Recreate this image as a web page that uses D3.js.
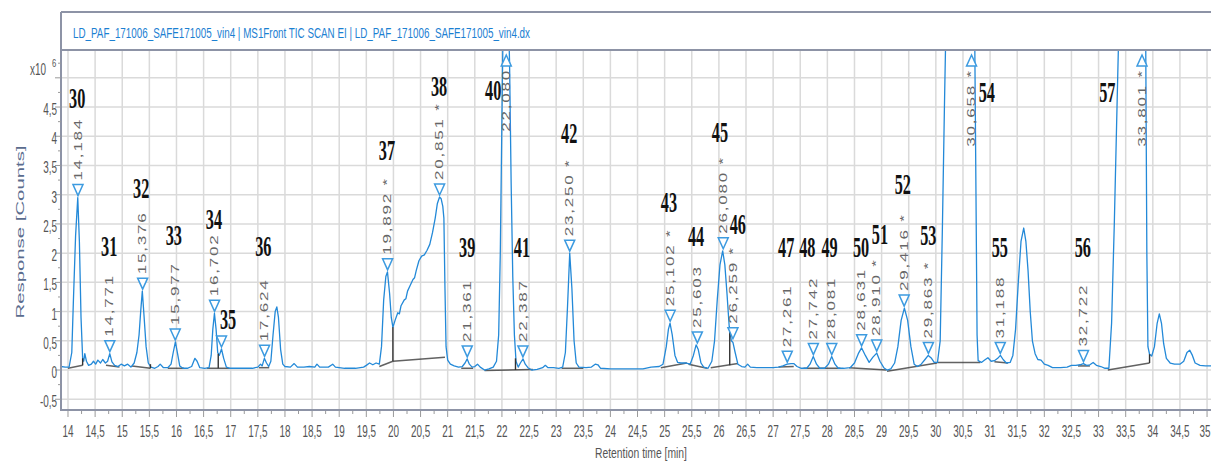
<!DOCTYPE html>
<html><head><meta charset="utf-8">
<script src="https://cdn.jsdelivr.net/npm/d3@7"></script>
<style>body{margin:0;background:#fff;} svg{display:block;}</style>
</head><body><svg id="c" width="1211" height="463"></svg>
<script>
// ---------------- DATA ----------------
const titleText = "LD_PAF_171006_SAFE171005_vin4 | MS1Front TIC SCAN EI | LD_PAF_171006_SAFE171005_vin4.dx";
const xTitle = "Retention time [min]";
const yTitle = "Response [Counts]";
const xTickValues = [14,14.5,15,15.5,16,16.5,17,17.5,18,18.5,19,19.5,20,20.5,21,21.5,22,22.5,23,23.5,24,24.5,25,25.5,26,26.5,27,27.5,28,28.5,29,29.5,30,30.5,31,31.5,32,32.5,33,33.5,34,34.5,35];
const yTickValues = [-0.5,0,0.5,1,1.5,2,2.5,3,3.5,4,4.5];
const yGridValues = [-0.5,0,0.5,1,1.5,2,2.5,3,3.5,4,4.5,5];

// TIC trace [retention time (min), response (x10^6 counts)]
const trace = [
[13.87,0.06],[13.95,0.05],[14.02,0.05],[14.07,0.3],[14.1,1.2],[14.14,2.3],[14.18,2.95],[14.21,2.2],[14.24,0.9],[14.27,0.2],[14.29,0.15],[14.31,0.28],[14.34,0.15],[14.38,0.08],[14.43,0.1],[14.47,0.15],[14.51,0.1],[14.55,0.17],[14.6,0.12],[14.64,0.18],[14.69,0.12],[14.73,0.15],[14.77,0.28],[14.81,0.14],[14.86,0.08],[14.92,0.06],[14.98,0.1],[15.04,0.07],[15.1,0.1],[15.16,0.05],[15.22,0.12],[15.27,0.3],[15.31,0.6],[15.34,1.0],[15.37,1.35],[15.4,0.95],[15.44,0.4],[15.48,0.12],[15.53,0.05],[15.6,0.03],[15.66,0.06],[15.7,0.1],[15.76,0.04],[15.84,0.04],[15.9,0.1],[15.94,0.3],[15.98,0.48],[16.02,0.28],[16.06,0.07],[16.12,0.03],[16.2,0.03],[16.28,0.06],[16.34,0.2],[16.38,0.15],[16.43,0.04],[16.52,0.03],[16.6,0.04],[16.64,0.25],[16.67,0.7],[16.7,0.97],[16.73,0.7],[16.76,0.3],[16.79,0.25],[16.83,0.36],[16.87,0.2],[16.92,0.05],[16.98,0.03],[17.1,0.03],[17.25,0.03],[17.4,0.03],[17.5,0.05],[17.55,0.1],[17.58,0.07],[17.62,0.2],[17.66,0.12],[17.7,0.06],[17.74,0.15],[17.78,0.6],[17.82,1.0],[17.85,1.08],[17.88,0.9],[17.92,0.35],[17.96,0.1],[18.0,0.06],[18.1,0.05],[18.17,0.11],[18.23,0.05],[18.35,0.05],[18.45,0.06],[18.55,0.05],[18.59,0.1],[18.64,0.05],[18.8,0.05],[18.88,0.1],[18.93,0.05],[19.1,0.03],[19.3,0.03],[19.45,0.05],[19.5,0.08],[19.56,0.12],[19.62,0.09],[19.68,0.12],[19.74,0.1],[19.78,0.4],[19.82,1.2],[19.86,1.6],[19.89,1.68],[19.93,1.3],[19.96,0.9],[19.99,0.73],[20.03,0.85],[20.08,0.98],[20.11,0.96],[20.14,1.1],[20.2,1.2],[20.23,1.22],[20.26,1.35],[20.31,1.45],[20.36,1.55],[20.39,1.58],[20.42,1.7],[20.47,1.87],[20.52,1.95],[20.57,1.97],[20.62,2.05],[20.67,2.15],[20.72,2.35],[20.77,2.6],[20.81,2.85],[20.85,2.96],[20.88,2.93],[20.91,2.8],[20.93,2.6],[20.95,1.4],[20.97,0.4],[21.0,0.17],[21.05,0.1],[21.12,0.07],[21.2,0.05],[21.27,0.06],[21.32,0.12],[21.36,0.19],[21.4,0.1],[21.45,0.05],[21.5,0.06],[21.55,0.1],[21.6,0.05],[21.68,0.0],[21.76,0.02],[21.84,0.05],[21.9,0.15],[21.94,0.6],[21.97,2.0],[22.0,4.3],[22.03,6.5],[22.1,6.8],[22.14,5.3],[22.17,3.2],[22.2,1.6],[22.23,0.6],[22.26,0.15],[22.3,0.05],[22.34,0.12],[22.39,0.19],[22.43,0.1],[22.48,0.04],[22.55,0.0],[22.65,0.01],[22.75,0.04],[22.8,0.08],[22.85,0.04],[22.95,0.04],[23.05,0.03],[23.12,0.05],[23.17,0.3],[23.21,1.1],[23.25,2.0],[23.29,1.4],[23.33,0.5],[23.37,0.12],[23.42,0.05],[23.55,0.04],[23.65,0.05],[23.72,0.1],[23.77,0.09],[23.82,0.03],[24.0,0.02],[24.3,0.02],[24.6,0.02],[24.75,0.05],[24.9,0.06],[24.97,0.1],[25.03,0.4],[25.07,0.7],[25.1,0.8],[25.14,0.6],[25.19,0.25],[25.24,0.13],[25.3,0.12],[25.4,0.12],[25.47,0.1],[25.53,0.25],[25.58,0.43],[25.62,0.35],[25.67,0.12],[25.72,0.05],[25.8,0.03],[25.87,0.15],[25.92,0.5],[25.97,1.2],[26.02,1.8],[26.07,2.04],[26.11,1.8],[26.15,1.3],[26.19,0.75],[26.23,0.5],[26.26,0.47],[26.3,0.3],[26.35,0.1],[26.42,0.06],[26.48,0.05],[26.53,0.1],[26.58,0.05],[26.7,0.04],[26.85,0.04],[27.0,0.04],[27.1,0.05],[27.18,0.07],[27.26,0.1],[27.33,0.11],[27.38,0.11],[27.44,0.06],[27.52,0.03],[27.62,0.03],[27.68,0.1],[27.74,0.23],[27.8,0.1],[27.86,0.03],[27.95,0.03],[28.02,0.1],[28.08,0.23],[28.14,0.1],[28.2,0.03],[28.3,0.03],[28.42,0.04],[28.5,0.12],[28.57,0.28],[28.63,0.38],[28.7,0.25],[28.77,0.13],[28.84,0.22],[28.91,0.29],[28.97,0.15],[29.04,0.04],[29.1,0.0],[29.17,0.02],[29.24,0.12],[29.3,0.4],[29.36,0.85],[29.42,1.06],[29.48,0.85],[29.54,0.4],[29.6,0.1],[29.66,0.06],[29.73,0.1],[29.8,0.18],[29.86,0.25],[29.92,0.2],[29.97,0.13],[30.03,0.13],[30.08,0.5],[30.12,2.4],[30.16,4.6],[30.2,6.6],[30.4,8],[30.65,8],[30.71,6.5],[30.74,3.0],[30.76,0.6],[30.78,0.16],[30.84,0.13],[30.9,0.17],[30.96,0.21],[31.02,0.15],[31.08,0.16],[31.14,0.2],[31.19,0.25],[31.24,0.18],[31.3,0.12],[31.37,0.13],[31.42,0.25],[31.47,0.7],[31.52,1.5],[31.57,2.2],[31.62,2.43],[31.66,2.2],[31.7,1.7],[31.74,1.0],[31.78,0.5],[31.83,0.28],[31.88,0.18],[31.94,0.17],[32.0,0.1],[32.07,0.08],[32.15,0.04],[32.3,0.04],[32.42,0.05],[32.5,0.08],[32.58,0.08],[32.66,0.09],[32.72,0.11],[32.78,0.08],[32.84,0.09],[32.9,0.13],[32.96,0.08],[33.04,0.06],[33.12,0.03],[33.19,0.03],[33.24,0.8],[33.29,2.5],[33.34,4.5],[33.39,6.5],[33.6,8],[33.84,8],[33.87,5.5],[33.89,2.0],[33.91,0.4],[33.94,0.27],[33.98,0.24],[34.03,0.4],[34.08,0.8],[34.12,0.96],[34.16,0.8],[34.2,0.45],[34.25,0.2],[34.32,0.12],[34.4,0.1],[34.5,0.1],[34.57,0.15],[34.63,0.3],[34.68,0.34],[34.73,0.25],[34.78,0.12],[34.87,0.08],[34.97,0.07],[35.2,0.07]
];

// integration baselines [t1, v1, t2, v2]
const baseSegs = [
[14.0,0.03,14.27,0.08],[14.7,0.08,14.95,0.05],[15.18,0.07,15.52,0.03],[15.84,0.03,16.14,0.03],
[16.56,0.03,16.98,0.03],[17.52,0.04,17.71,0.04],[19.74,0.06,19.99,0.15],[19.99,0.15,20.95,0.22],
[21.25,0.03,21.47,0.03],[21.68,-0.01,22.57,0.01],[23.1,0.03,23.5,0.03],[24.93,0.04,25.41,0.12],
[25.44,0.1,25.78,0.03],[25.85,0.04,26.35,0.11],[27.1,0.05,27.38,0.06],[27.56,0.03,28.24,0.03],
[28.4,0.04,29.09,0.0],[29.1,-0.02,30.02,0.12],[30.02,0.13,30.82,0.13],[31.08,0.14,31.33,0.12],
[32.62,0.07,32.84,0.07],[33.17,0.0,33.94,0.12]
];
// peak split drop lines [t, vBottom, vTop]
const dropLines = [[14.27,0.08,0.2],[15.52,0.03,0.1],[16.77,0.03,0.28],[19.99,0.15,0.73],[22.25,0.0,0.2],[26.2,0.08,0.65],[33.94,0.12,0.27]];

// peak markers (retention time) and their labels
const rtValues = [14.184,14.771,15.376,15.977,16.702,16.83,17.624,19.892,20.851,21.361,22.080,22.387,23.250,25.102,25.603,26.080,26.259,27.261,27.742,28.081,28.631,28.910,29.416,29.863,30.658,31.188,32.722,33.801];
const rtLabels = ["14,184","14,771","15,376","15,977","16,702","","17,624","19,892 *","20,851 *","21,361","22,080","22,387","23,250 *","25,102 *","25,603","26,080 *","26,259 *","27,261","27,742","28,081","28,631","28,910 *","29,416 *","29,863 *","30,658 *","31,188","32,722","33,801 *"];

// compound numbers and their anchor (time, response)
const peakIds = [30,31,32,33,34,35,36,37,38,39,40,41,42,43,44,45,46,47,48,49,50,51,52,53,54,55,56,57];
const peakIdT = [14.17,14.76,15.35,15.95,16.69,16.95,17.6,19.88,20.84,21.36,21.84,22.37,23.24,25.08,25.58,26.02,26.35,27.24,27.63,28.04,28.62,28.97,29.39,29.86,30.94,31.18,32.71,33.16];
const peakIdV = [4.65,2.12,3.11,2.31,2.58,0.87,2.12,3.76,4.85,2.10,4.79,2.10,4.05,2.87,2.29,4.07,2.50,2.10,2.10,2.10,2.10,2.32,3.18,2.31,4.75,2.10,2.10,4.75];

// ---------------- DRAW ----------------
const svg = d3.select('#c');
const L = 61, R = 1216, T = 50, B = 410;
const x = d3.scaleLinear().domain([13.871, 35.165]).range([L, R]);
const y = d3.scaleLinear().domain([-0.684, 5.476]).range([B, T]);
const fmt = v => String(+v.toFixed(2)).replace('.', ',');
const SANS = "'Liberation Sans', Arial, sans-serif";
const SERIF = "'Liberation Serif', 'Times New Roman', serif";

svg.append('rect').attr('width', 1211).attr('height', 463).attr('fill', '#fff');
svg.append('defs').append('clipPath').attr('id', 'clip')
  .append('rect').attr('x', L).attr('y', T).attr('width', R - L).attr('height', B - T);

// grid
const grid = svg.append('g').attr('stroke', '#dadada').attr('stroke-width', 1.5);
grid.selectAll('.vx').data(xTickValues).join('line')
  .attr('x1', d => x(d)).attr('x2', d => x(d)).attr('y1', T).attr('y2', B);
grid.selectAll('.hy').data(yGridValues).join('line')
  .attr('y1', d => y(d)).attr('y2', d => y(d)).attr('x1', L).attr('x2', R);

const plot = svg.append('g').attr('clip-path', 'url(#clip)');

// baselines
plot.append('g').attr('stroke', '#3b3b3b').attr('stroke-width', 1.5).attr('opacity', 0.8)
  .selectAll('line').data(baseSegs).join('line')
  .attr('x1', d => x(d[0])).attr('y1', d => y(d[1])).attr('x2', d => x(d[2])).attr('y2', d => y(d[3]));

// trace
plot.append('path').datum(trace)
  .attr('fill', 'none').attr('stroke', '#2389d8').attr('stroke-width', 1.3).attr('stroke-linejoin', 'round')
  .attr('d', d3.line().x(d => x(d[0])).y(d => y(d[1])));

// drop lines
plot.append('g').attr('stroke', '#333').attr('stroke-width', 1.4)
  .selectAll('line').data(dropLines).join('line')
  .attr('x1', d => x(d[0])).attr('x2', d => x(d[0])).attr('y1', d => y(d[1])).attr('y2', d => y(d[2]));

// markers & rt labels
const yMax = y.domain()[1];
function apexOf(rt) {
  let m = -1;
  trace.forEach(p => { if (Math.abs(p[0] - rt) <= 0.05 && p[1] > m) m = p[1]; });
  return m;
}
const LBL = { size: 17, spacing: 1.8, sy: 0.6, color: '#666' };
const mk = svg.append('g');
rtValues.forEach((rt, i) => {
  const cx = x(rt);
  const a = apexOf(rt);
  if (a > yMax) {
    mk.append('path').attr('d', `M${cx - 5},${T + 16} L${cx + 5},${T + 16} L${cx},${T + 5} Z`)
      .attr('fill', '#fff').attr('stroke', '#3d9be0').attr('stroke-width', 1.5);
    if (rtLabels[i]) mk.append('text').text(rtLabels[i])
      .attr('transform', `translate(${cx},${T + 19}) rotate(-90) scale(1,${LBL.sy})`)
      .attr('text-anchor', 'end').attr('dominant-baseline', 'central')
      .attr('font-family', SANS).attr('font-size', LBL.size).attr('letter-spacing', LBL.spacing).attr('fill', LBL.color);
  } else {
    const tip = y(a) - 2, top = tip - 11;
    mk.append('path').attr('d', `M${cx - 5},${top} L${cx + 5},${top} L${cx},${tip} Z`)
      .attr('fill', '#fff').attr('fill-opacity', 0.85).attr('stroke', '#3d9be0').attr('stroke-width', 1.5);
    if (rtLabels[i]) mk.append('text').text(rtLabels[i])
      .attr('transform', `translate(${cx},${top - 4}) rotate(-90) scale(1,${LBL.sy})`)
      .attr('text-anchor', 'start').attr('dominant-baseline', 'central')
      .attr('font-family', SANS).attr('font-size', LBL.size).attr('letter-spacing', LBL.spacing).attr('fill', LBL.color);
  }
});

// compound numbers
svg.append('g').selectAll('text').data(peakIds).join('text')
  .text(d => d)
  .attr('transform', (d, i) => `translate(${x(peakIdT[i])},${y(peakIdV[i])}) scale(0.56,1)`)
  .attr('text-anchor', 'middle').attr('dominant-baseline', 'central')
  .attr('font-family', SERIF).attr('font-weight', 'bold').attr('font-size', 29).attr('fill', '#111');

// frame & title box
const frame = svg.append('g').attr('stroke', '#8d93a6').attr('stroke-width', 2).attr('fill', 'none');
frame.append('line').attr('x1', L).attr('x2', L).attr('y1', 12).attr('y2', B + 1);
frame.append('line').attr('x1', L).attr('x2', 1211).attr('y1', B).attr('y2', B);
frame.append('line').attr('x1', L).attr('x2', 1211).attr('y1', T).attr('y2', T);
frame.append('line').attr('x1', L).attr('x2', 1211).attr('y1', 12).attr('y2', 12);

svg.append('text').text(titleText)
  .attr('x', 73).attr('y', 38).attr('textLength', 457).attr('lengthAdjust', 'spacingAndGlyphs')
  .attr('font-family', SANS).attr('font-size', 15).attr('fill', '#1b80d2');

// x ticks
const tk = svg.append('g').attr('stroke', '#9a9a9a').attr('stroke-width', 1);
tk.selectAll('.xt').data(xTickValues).join('line')
  .attr('x1', d => x(d)).attr('x2', d => x(d)).attr('y1', B + 1).attr('y2', B + 7);
tk.selectAll('.xm').data(xTickValues.slice(0, -1)).join('line')
  .attr('x1', d => x(d + 0.25)).attr('x2', d => x(d + 0.25)).attr('y1', B + 1).attr('y2', B + 4);
tk.selectAll('.yt').data(yGridValues).join('line')
  .attr('y1', d => y(d)).attr('y2', d => y(d)).attr('x1', L - 6).attr('x2', L);
tk.selectAll('.ym').data(yGridValues).join('line')
  .attr('y1', d => y(d + 0.25)).attr('y2', d => y(d + 0.25)).attr('x1', L - 3).attr('x2', L);

const lastX = xTickValues[xTickValues.length - 1];
svg.append('g').selectAll('text').data(xTickValues).join('text')
  .text(d => fmt(d))
  .attr('transform', d => `translate(${Math.min(x(d), 1205)},437) scale(0.62,1)`)
  .attr('text-anchor', 'middle').attr('font-family', SANS).attr('font-size', 16).attr('fill', '#555');

svg.append('g').selectAll('text').data(yTickValues).join('text')
  .text(d => fmt(d))
  .attr('transform', d => `translate(57,${y(d) + 8}) scale(0.62,1)`)
  .attr('text-anchor', 'end').attr('font-family', SANS).attr('font-size', 16).attr('fill', '#555');

// x10^6
svg.append('text').text('x10').attr('transform', 'translate(30,75) scale(0.62,1)')
  .attr('font-family', SANS).attr('font-size', 16).attr('fill', '#555');
svg.append('text').text('6').attr('transform', 'translate(52,67) scale(0.7,1)')
  .attr('font-family', SANS).attr('font-size', 11).attr('fill', '#555');

// axis titles
svg.append('text').text(yTitle)
  .attr('transform', 'translate(20,232) rotate(-90) scale(1,0.72)')
  .attr('text-anchor', 'middle').attr('dominant-baseline', 'central')
  .attr('textLength', 173).attr('lengthAdjust', 'spacingAndGlyphs')
  .attr('font-family', SANS).attr('font-size', 16).attr('fill', '#5a6c8e');
svg.append('text').text(xTitle)
  .attr('x', 641).attr('y', 458).attr('text-anchor', 'middle')
  .attr('textLength', 92).attr('lengthAdjust', 'spacingAndGlyphs')
  .attr('font-family', SANS).attr('font-size', 15).attr('fill', '#555');
</script></body></html>
